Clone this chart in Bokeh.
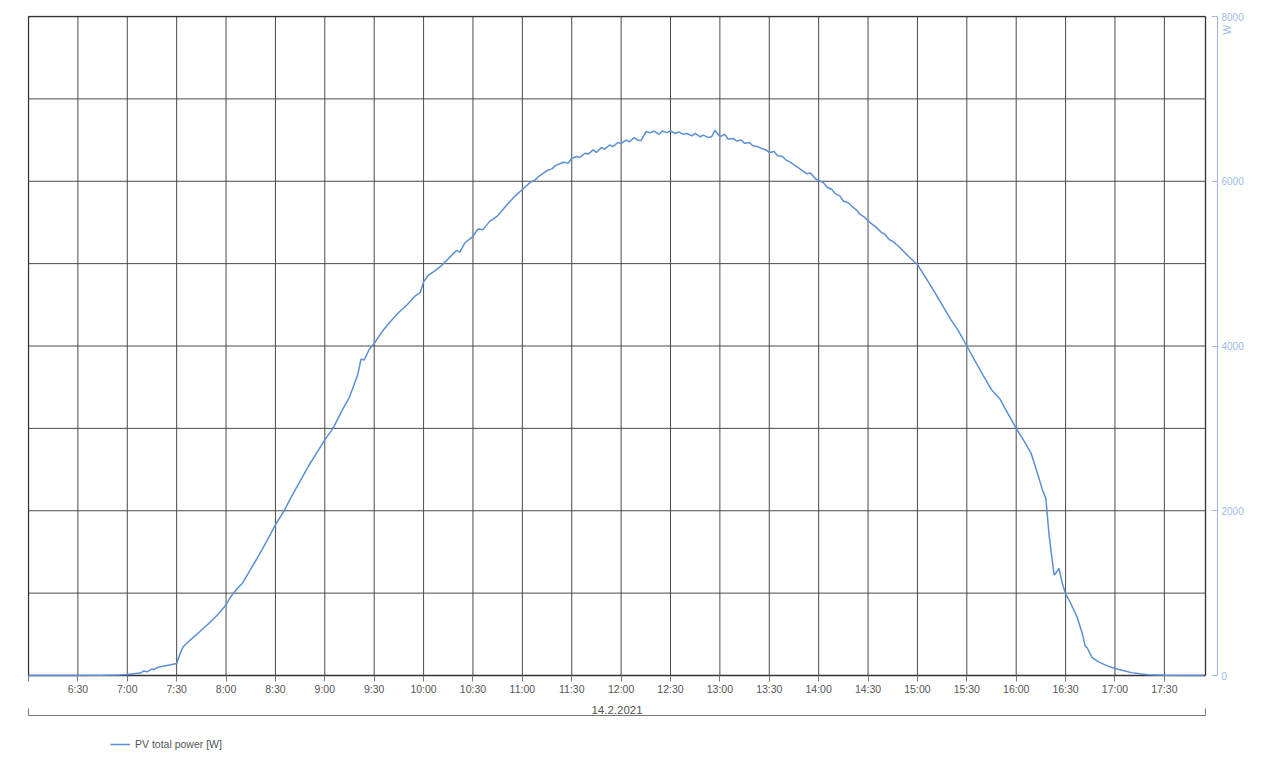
import math
from bokeh.plotting import figure
from bokeh.models import (LinearAxis, FixedTicker, Range1d, Legend, LegendItem)
from bokeh.embed import file_html
from bokeh.resources import INLINE

# ---------------- data ----------------
times = ["6:00", "6:15", "6:30", "6:45", "6:55", "7:00", "7:05", "7:08", "7:10", "7:12",
         "7:15", "7:16", "7:18", "7:20", "7:25", "7:30", "7:32", "7:34", "7:37", "7:40",
         "7:45", "7:50", "7:55", "8:00", "8:03", "8:05", "8:07", "8:10", "8:15", "8:20",
         "8:25", "8:30", "8:35", "8:40", "8:45", "8:50", "8:55", "9:00", "9:05", "9:10",
         "9:15", "9:20", "9:22", "9:24", "9:27", "9:30", "9:35", "9:40", "9:45", "9:50",
         "9:55", "9:58", "10:00", "10:03", "10:06", "10:10", "10:15", "10:20", "10:22", "10:25",
         "10:30", "10:33", "10:36", "10:40", "10:45", "10:50", "10:55", "11:00", "11:05", "11:08",
         "11:10", "11:15", "11:18", "11:20", "11:25", "11:28", "11:30", "11:33", "11:35", "11:38",
         "11:40", "11:43", "11:45", "11:48", "11:50", "11:53", "11:55", "11:58", "12:00", "12:03",
         "12:05", "12:08", "12:10", "12:12", "12:15", "12:18", "12:20", "12:23", "12:25", "12:28",
         "12:30", "12:33", "12:35", "12:38", "12:40", "12:43", "12:45", "12:48", "12:50", "12:53",
         "12:55", "12:57", "13:00", "13:03", "13:05", "13:08", "13:10", "13:13", "13:15", "13:18",
         "13:20", "13:23", "13:25", "13:28", "13:30", "13:33", "13:35", "13:38", "13:40", "13:43",
         "13:45", "13:48", "13:50", "13:53", "13:55", "13:58", "14:00", "14:03", "14:05", "14:08",
         "14:10", "14:13", "14:15", "14:18", "14:20", "14:23", "14:25", "14:28", "14:30", "14:33",
         "14:35", "14:38", "14:40", "14:43", "14:45", "14:48", "14:50", "14:55", "15:00", "15:05",
         "15:10", "15:15", "15:20", "15:25", "15:30", "15:35", "15:40", "15:45", "15:50", "15:55",
         "16:00", "16:05", "16:09", "16:13", "16:16", "16:18", "16:20", "16:23", "16:24", "16:26",
         "16:28", "16:30", "16:33", "16:37", "16:40", "16:42", "16:43", "16:46", "16:50", "16:55",
         "17:00", "17:05", "17:10", "17:15", "17:20", "17:30", "17:40", "17:54"]
power = [0, 0, 0, 2, 5, 12, 25, 30, 55, 45,
         80, 70, 95, 105, 125, 145, 260, 350, 410, 460,
         550, 640, 740, 860, 960, 1010, 1060, 1120, 1290, 1460,
         1640, 1830, 1990, 2180, 2360, 2540, 2700, 2860, 3000, 3200,
         3380, 3650, 3840, 3830, 3960, 4030, 4180, 4300, 4410, 4500,
         4610, 4650, 4780, 4860, 4900, 4960, 5060, 5160, 5140, 5250,
         5330, 5420, 5410, 5510, 5580, 5700, 5810, 5900, 5990, 6020,
         6060, 6130, 6150, 6190, 6230, 6220, 6280, 6300, 6290, 6340,
         6330, 6380, 6350, 6410, 6390, 6440, 6420, 6470, 6460, 6500,
         6480, 6530, 6500, 6490, 6600, 6590, 6610, 6570, 6610, 6590,
         6610, 6580, 6600, 6570, 6580, 6550, 6580, 6540, 6560, 6530,
         6540, 6620, 6540, 6570, 6510, 6520, 6490, 6500, 6460, 6470,
         6430, 6420, 6400, 6380, 6350, 6360, 6310, 6300, 6260, 6230,
         6200, 6160, 6130, 6090, 6100, 6030, 6010, 5980, 5930, 5900,
         5850, 5820, 5760, 5740, 5700, 5650, 5600, 5560, 5520, 5470,
         5440, 5380, 5360, 5290, 5270, 5220, 5180, 5080, 4990, 4830,
         4670, 4500, 4330, 4180, 4000, 3820, 3640, 3470, 3360, 3180,
         3000, 2840, 2700, 2450, 2250, 2150, 1700, 1220, 1240, 1300,
         1120, 990, 880, 710, 520, 350, 340, 220, 165, 120,
         85, 60, 35, 20, 8, 2, 0, 0]
x_tick_labels = ["6:30", "7:00", "7:30", "8:00", "8:30", "9:00", "9:30", "10:00",
                 "10:30", "11:00", "11:30", "12:00", "12:30", "13:00", "13:30", "14:00",
                 "14:30", "15:00", "15:30", "16:00", "16:30", "17:00", "17:30"]
y_ticks = [0, 2000, 4000, 6000, 8000]
y_grid = [1000, 2000, 3000, 4000, 5000, 6000, 7000]
series_name = "PV total power [W]"
unit_label = "W"
unit_label_at = 7780
date_label = "14.2.2021"
day_start = "6:00"
day_end = "17:55"
y_max = 8000


def to_min(s):
    h, m = s.split(":")
    return int(h) * 60 + int(m)


xs = [to_min(t) for t in times]
x0, x1 = to_min(day_start), to_min(day_end)
x_mid = (x0 + x1) / 2
x_ticks = [x0] + [to_min(t) for t in x_tick_labels]

# ---------------- layout (pixels) ----------------
FRAME_W = 1190          # frame extends 12px past the chart border, up to the blue axis
CHART_W = 1178
CHART_H = 659           # height of the 0..8000 chart area
FRAME_H = 742           # frame also holds the bracket and the legend below the chart
BRACKET_PX = 40         # bracket line distance below the chart
px_per_min = CHART_W / (x1 - x0)
ppu = CHART_H / y_max
x_end = x1 + (FRAME_W - CHART_W) / px_per_min
pad_x = 1 / px_per_min
y_top = y_max + 1 / ppu
y_bottom = y_top - FRAME_H / ppu
y_bracket = -BRACKET_PX / ppu

GRID = "#4a4a4a"
BLUE_LINE = "#5b8fd6"
BLUE_AXIS = "#9bbbe6"
TXT = "#555555"
FONT = "Liberation Sans"

p = figure(frame_width=FRAME_W, frame_height=FRAME_H,
           x_range=Range1d(x0 - pad_x, x_end), y_range=Range1d(y_bottom, y_top),
           output_backend="svg", toolbar_location=None,
           x_axis_location="below", y_axis_location="right",
           min_border_left=27, min_border_top=15, min_border_right=0, min_border_bottom=0,
           background_fill_color="white", border_fill_color="white")
p.outline_line_color = None
p.ygrid.visible = False
p.xgrid.visible = False

# grid lines + chart border
p.segment(x0=x_ticks, x1=x_ticks, y0=[0] * len(x_ticks), y1=[y_max] * len(x_ticks),
          line_color=GRID, line_width=1)
p.segment(x0=[x0] * len(y_grid), x1=[x1] * len(y_grid), y0=y_grid, y1=y_grid,
          line_color=GRID, line_width=1)
p.segment(x0=[x0, x0, x0, x1], x1=[x1, x1, x0, x1],
          y0=[0, y_max, 0, 0], y1=[0, y_max, y_max, y_max],
          line_color="#333333", line_width=1.3)

r = p.line(xs, power, line_color=BLUE_LINE, line_width=1.5)
chk = p.scatter(x=[], y=[], marker="square_check", size=8, line_color="#555555",
                fill_color=None, line_width=1)

# bottom axis (time), drawn at the chart's zero line
xa = p.xaxis[0]
xa.fixed_location = 0
xa.ticker = FixedTicker(ticks=x_ticks)
xa.major_label_overrides = {to_min(t): t for t in x_tick_labels}
xa.major_label_overrides[x0] = ""
xa.axis_line_color = None
xa.major_tick_line_color = "#777777"
xa.major_tick_out = 6
xa.major_tick_in = 0
xa.minor_tick_line_color = None
xa.major_label_standoff = 1
xa.major_label_text_font = FONT
xa.major_label_text_font_size = "10.5px"
xa.major_label_text_color = TXT

# bracket axis carrying the date
ba = LinearAxis(ticker=FixedTicker(ticks=[x_mid], minor_ticks=[x0, x1]), bounds=(x0, x1),
                fixed_location=y_bracket)
ba.axis_line_color = "#777777"
ba.major_tick_line_color = None
ba.minor_tick_line_color = "#777777"
ba.minor_tick_in = 7
ba.minor_tick_out = 0
ba.major_tick_in = 0
ba.major_tick_out = 0
ba.major_label_overrides = {x_mid: "\u00a0" + date_label + "\u00a0"}
ba.major_label_standoff = -12
ba.major_label_text_font = FONT
ba.major_label_text_font_size = "11.5px"
ba.major_label_text_color = TXT
try:
    ba.major_label_background_fill_color = "white"
except Exception:
    pass
p.add_layout(ba, "below")

# right axis (power)
ya = p.yaxis[0]
ya.bounds = (0, y_max)
ya.ticker = FixedTicker(ticks=y_ticks)
ya.axis_line_color = BLUE_AXIS
ya.major_tick_line_color = BLUE_AXIS
ya.major_tick_in = 6
ya.major_tick_out = 0
ya.minor_tick_line_color = None
ya.major_label_standoff = 4
ya.major_label_text_font = FONT
ya.major_label_text_font_size = "10px"
ya.major_label_text_color = BLUE_AXIS

# unit label near the top of the right axis
wa = LinearAxis(ticker=FixedTicker(ticks=[unit_label_at]))
wa.major_label_overrides = {unit_label_at: unit_label}
wa.axis_line_color = None
wa.major_tick_line_color = None
wa.minor_tick_line_color = None
wa.major_tick_in = 0
wa.major_tick_out = 0
wa.major_label_text_font = FONT
wa.major_label_text_font_size = "10px"
wa.major_label_text_color = BLUE_AXIS
wa.major_label_orientation = math.pi / 2
wa.major_label_standoff = -19
p.add_layout(wa, "right")

# legend, inside the frame below the bracket
legend = Legend(items=[LegendItem(label="", renderers=[chk]),
                       LegendItem(label=series_name, renderers=[r])],
                location=(38, 6), orientation="horizontal",
                label_text_font=FONT, label_text_font_size="10.5px",
                label_text_color=TXT, glyph_width=20, glyph_height=14,
                label_standoff=5, spacing=-5, padding=2, margin=0,
                border_line_color=None, background_fill_alpha=0)
p.add_layout(legend)

open("out.html", "w").write(file_html(p, INLINE))
